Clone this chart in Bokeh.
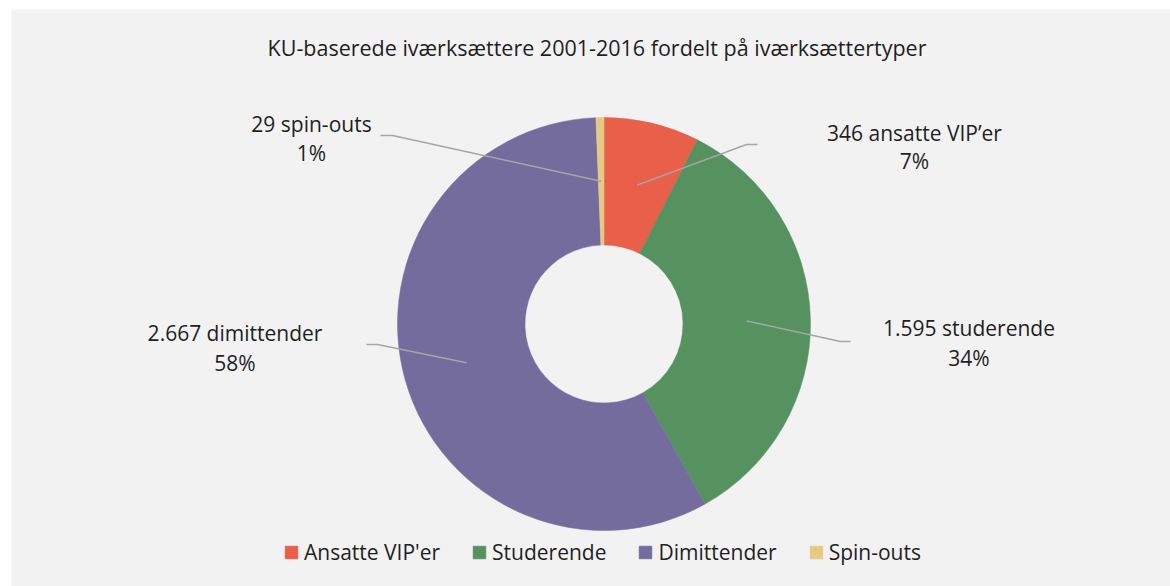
import math
from bokeh.plotting import figure
from bokeh.models import ColumnDataSource, Range1d, Legend, LegendItem, Label
from bokeh.core.properties import value
from bokeh.embed import file_html
from bokeh.resources import INLINE

# ---------------- data ----------------
categories = ["Ansatte VIP'er", "Studerende", "Dimittender", "Spin-outs"]
label_names = ["ansatte VIP\u2019er", "studerende", "dimittender", "spin-outs"]
counts = [346, 1595, 2667, 29]
colors = ["#E8604A", "#56925F", "#746C9D", "#E6CA84"]
title_text = "KU-baserede iværksættere 2001-2016 fordelt på iværksættertyper"

# ---------------- layout (page pixels) ----------------
W, H = 1170, 586
BL, BT = 11, 9
FW, FH = W - BL, H - BT
CX, CY = 603.5, 323.5          # pie centre on page
R_OUT, R_IN = 206.5, 79
TEXT_FONT = "Open Sans"
TEXT_COLOR = "#1f1f1f"
LINE_COLOR = "#a6a6a6"

# label centres (line 1, line 2) and leader (outer end, elbow) per slice
label_line1 = [(914, 132), (968.5, 327), (234.5, 332), (311, 123)]
label_line2 = [(914, 160), (968.5, 357), (234.5, 362), (311, 152)]
leader_outer = [(757, 144), (850, 341), (366, 344), (380, 135)]
leader_elbow = [(746, 144), (840, 341), (377, 344), (392, 135)]


def dx(xi):
    return xi - CX


def dy(yi):
    return CY - yi


total = sum(counts)
starts, ends, mids = [], [], []
cum = 0
for c in counts:
    f0 = cum / total
    cum += c
    f1 = cum / total
    starts.append(math.pi / 2 - 2 * math.pi * f0)
    ends.append(math.pi / 2 - 2 * math.pi * f1)
    mids.append(math.pi / 2 - 2 * math.pi * (f0 + f1) / 2)

line1 = [f"{c:,}".replace(",", ".") + " " + n for c, n in zip(counts, label_names)]
line2 = [f"{round(100 * c / total)}%" for c in counts]

p = figure(width=W, height=H, output_backend="svg", toolbar_location=None,
           x_range=Range1d(BL - CX, BL + FW - CX),
           y_range=Range1d(CY - (BT + FH), CY - BT),
           x_axis_location=None, y_axis_location=None,
           min_border_left=BL, min_border_top=BT, min_border_right=0, min_border_bottom=0)
p.grid.visible = False
p.outline_line_color = None
p.background_fill_color = "#f2f2f2"
p.border_fill_color = "#ffffff"

src = ColumnDataSource(dict(start=starts, end=ends, color=colors, cat=categories))
wr = p.annular_wedge(x=0, y=0, inner_radius=R_IN, outer_radius=R_OUT,
                     start_angle="start", end_angle="end", direction="clock",
                     fill_color="color", line_color="color", line_width=0.5, source=src)

# leader lines
r_mid = (R_IN + R_OUT) / 2
for i in range(len(counts)):
    xs = [dx(leader_outer[i][0]), dx(leader_elbow[i][0]), r_mid * math.cos(mids[i])]
    ys = [dy(leader_outer[i][1]), dy(leader_elbow[i][1]), r_mid * math.sin(mids[i])]
    p.line(xs, ys, line_color=LINE_COLOR, line_width=1.5)

lab_src = ColumnDataSource(dict(
    x=[dx(a[0]) for a in label_line1] + [dx(a[0]) for a in label_line2],
    y=[dy(a[1]) for a in label_line1] + [dy(a[1]) for a in label_line2],
    t=line1 + line2))
p.text(x="x", y="y", text="t", source=lab_src, text_font=value(TEXT_FONT),
       text_font_size=value("21px"), text_color=TEXT_COLOR,
       text_align="center", text_baseline="middle")

p.add_layout(Label(x=dx(596.5), y=dy(47), text=title_text, text_font=TEXT_FONT,
                   text_font_size="21.5px", text_color=TEXT_COLOR,
                   text_align="center", text_baseline="middle"))

legend = Legend(items=[LegendItem(label=categories[i], renderers=[wr], index=i)
                       for i in range(len(categories))],
                orientation="horizontal", location=(272, 20),
                padding=0, margin=0, spacing=31, label_standoff=5,
                glyph_width=16, glyph_height=16,
                label_text_font=TEXT_FONT, label_text_font_size="21px",
                label_text_color=TEXT_COLOR,
                background_fill_alpha=0, border_line_color=None)
p.add_layout(legend)

open("out.html", "w").write(file_html(p, INLINE))
